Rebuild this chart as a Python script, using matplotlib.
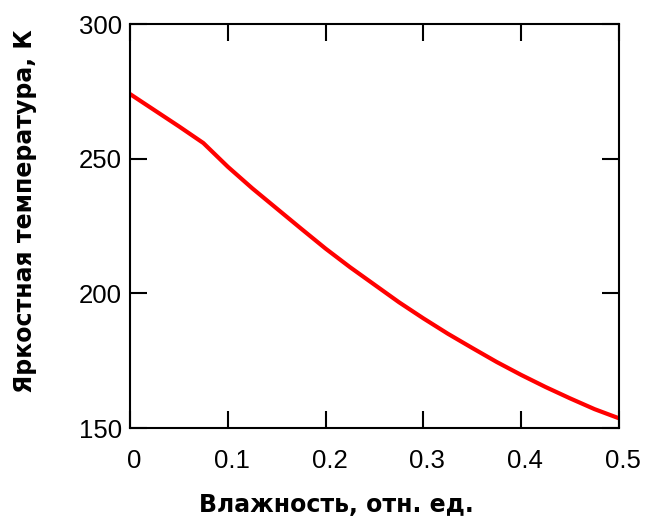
import matplotlib
matplotlib.use("Agg")
import matplotlib.pyplot as plt
import matplotlib.transforms as mtransforms

humidity = [0.0, 0.025, 0.05, 0.075, 0.1, 0.125, 0.15, 0.175, 0.2, 0.225, 0.25,
            0.275, 0.3, 0.325, 0.35, 0.375, 0.4, 0.425, 0.45, 0.475, 0.5]
brightness_temp = [274.0, 268.0, 262.0, 255.8, 247.0, 239.0, 231.5, 224.0, 216.6, 209.7, 203.2,
                   196.7, 190.7, 185.0, 179.7, 174.5, 169.7, 165.2, 161.0, 157.0, 153.6]
x_ticks = [0, 0.1, 0.2, 0.3, 0.4, 0.5]
x_ticklabels = ["0", "0.1", "0.2", "0.3", "0.4", "0.5"]
y_ticks = [150, 200, 250, 300]
y_ticklabels = ["150", "200", "250", "300"]
x_label = "Влажность, отн. ед."
y_label = "Яркостная температура, К"

tick_font = ["Liberation Sans", "DejaVu Sans"]
label_font = ["DejaVu Sans"]

fig = plt.figure(figsize=(6.48, 5.28), dpi=100)
ax = fig.add_axes([130/648, 1-428/528, (619-130)/648, (428-24)/528])

ax.plot(humidity, brightness_temp, color="#ff0000", linewidth=3.0, solid_capstyle="butt")

ax.set_xlim(0, 0.5)
ax.set_ylim(150, 300)
ax.set_xticks(x_ticks)
ax.set_xticklabels(x_ticklabels)
ax.set_yticks(y_ticks)
ax.set_yticklabels(y_ticklabels)

for sp in ax.spines.values():
    sp.set_linewidth(1.5)
    sp.set_color("#000000")

ax.tick_params(axis="both", which="major", direction="in", length=12, width=1.5,
               top=True, right=True, color="#000000")
ax.tick_params(axis="x", pad=15)
ax.tick_params(axis="y", pad=6)

for lab in ax.get_xticklabels() + ax.get_yticklabels():
    lab.set_family(tick_font)
    lab.set_fontsize(18.5)
    lab.set_color("#000000")

offset = mtransforms.ScaledTranslation(4/100, 0, fig.dpi_scale_trans)
for lab in ax.get_xticklabels():
    lab.set_transform(lab.get_transform() + offset)

fig.text(336/648, 1-505/528, x_label, ha="center", va="center",
         fontsize=17, fontweight="bold", family=label_font)
fig.text(25/648, 1-211/528, y_label, ha="center", va="center", rotation=90,
         fontsize=17, fontweight="bold", family=label_font)

fig.savefig("out.png", dpi=100, facecolor="white")
